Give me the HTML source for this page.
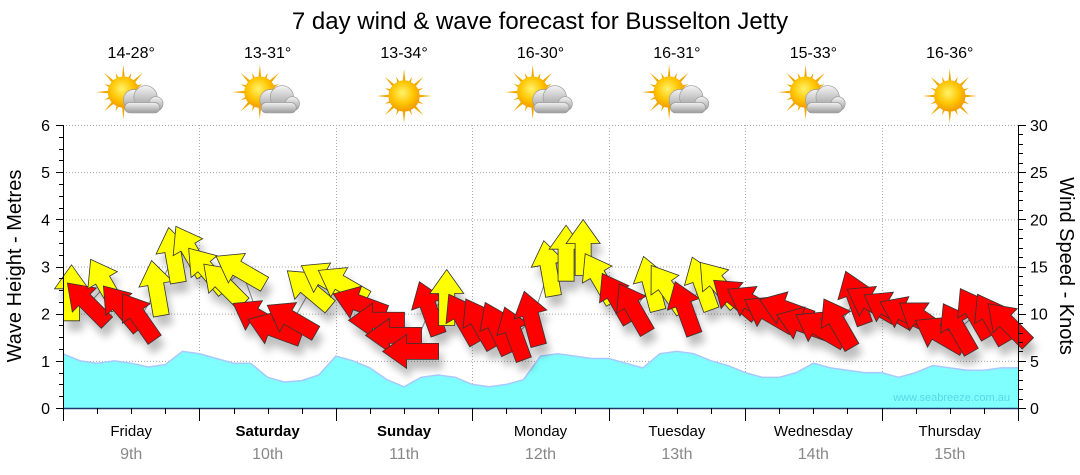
<!DOCTYPE html>
<html><head><meta charset="utf-8"><style>
body{margin:0;background:#fff;width:1080px;height:475px;overflow:hidden;font-family:"Liberation Sans","DejaVu Sans",sans-serif}
svg{display:block}
</style></head><body>
<svg id="c" width="1080" height="475">
<defs>
<radialGradient id="sun" cx="45%" cy="40%" r="60%"><stop offset="0" stop-color="#fff36a"/><stop offset="0.6" stop-color="#ffc400"/><stop offset="1" stop-color="#f29a00"/></radialGradient>
<linearGradient id="cloud" x1="0" y1="0" x2="0" y2="1"><stop offset="0" stop-color="#f4f4f4"/><stop offset="1" stop-color="#9a9a9a"/></linearGradient>
<filter id="sh" x="-30%" y="-30%" width="160%" height="160%"><feGaussianBlur stdDeviation="4"/></filter>
</defs>
</svg>
<script>
const days=['Friday','Saturday','Sunday','Monday','Tuesday','Wednesday','Thursday'];
const dates=['9th','10th','11th','12th','13th','14th','15th'];
const temps=['14-28°','13-31°','13-34°','16-30°','16-31°','15-33°','16-36°'];
const cloudy=[1,1,0,1,1,1,0];
const leftTicks=[0,1,2,3,4,5,6];
const rightTicks=[0,5,10,15,20,25,30];
const waveHeights=[1.15,1.0,0.95,1.0,0.95,0.87,0.92,1.2, 1.15,1.05,0.95,0.95,0.65,0.55,0.58,0.7, 1.1,1.0,0.85,0.6,0.45,0.65,0.7,0.65, 0.5,0.45,0.5,0.6,1.1,1.15,1.1,1.05, 1.05,0.95,0.85,1.15,1.2,1.15,1.0,0.9, 0.75,0.65,0.65,0.75,0.95,0.85,0.8,0.75, 0.75,0.65,0.75,0.9,0.85,0.8,0.8,0.85];
const windSpeeds=[12,11,13,10.5,9.5,12.5,16,16.5, 14.5,13,14.5,9.5,8.3,9.3,12.5,13.5, 13,11,9.3,7.7,6,10.4,11.5,9.3, 8.8,8.3,7.7,9.3,14.6,16.2,16.8,13.6, 11.5,10.4,13,12.5,10.4,13,13,11.5, 11,9.9,10.4,8.8,8.3,8.8,11.5,11, 10.4,9.9,9.3,7.7,8.3,9.9,9.3,8.8];
const windDirs=[0,-45,-30,-40,-35,-10,-10,-30, -40,-45,-60,-60,-70,-60,-50,-60, -60,-70,-90,-90,-90,-20,0,-30, -30,-25,-20,-15,-10,0,0,-30, -30,-30,-15,-35,-20,-20,-40,-50, -60,-60,-70,-70,-60,-30,-20,-60, -60,-65,-55,-60,-30,-30,-30,-45];
const windSeaBreeze=[1,0,1,0,0,1,1,1, 1,1,1,0,0,0,1,1, 1,0,0,0,0,0,1,0, 0,0,0,0,1,1,1,1, 0,0,1,1,0,1,1,0, 0,0,0,0,0,0,0,0, 0,0,0,0,0,0,0,0];

const NS='http://www.w3.org/2000/svg';
const svg=document.getElementById('c');
const X0=63,X1=1018,Y0=408,Y1=125;
const xh=h=>X0+(X1-X0)*h/168;
const ym=m=>Y0-(Y0-Y1)*m/6;
const yk=k=>Y0-(Y0-Y1)*k/30;
function el(t,a,p){const e=document.createElementNS(NS,t);for(const k in a)e.setAttribute(k,a[k]);(p||svg).appendChild(e);return e;}
function txt(s,a,p){const e=el('text',a,p);e.textContent=s;return e;}

let t=txt('7 day wind & wave forecast for Busselton Jetty',{x:540,y:29,'text-anchor':'middle','font-size':24,fill:'#000'});



const grid=el('g',{stroke:'#aaa','stroke-dasharray':'1,2','stroke-width':1});


leftTicks.forEach(v=>{if(v>0)el('line',{x1:X0,x2:X1,y1:ym(v)+.5,y2:ym(v)+.5},grid);});
for(let d=1;d<7;d++)el('line',{x1:Math.round(xh(d*24))+.5,x2:Math.round(xh(d*24))+.5,y1:Y1,y2:Y0},grid);

let pts=waveHeights.map((v,i)=>xh(i*3)+','+ym(v));
let wa=el('polygon',{points:X0+','+Y0+' '+pts.join(' ')+' '+xh(168)+','+ym(waveHeights[waveHeights.length-1])+' '+X1+','+Y0,fill:'#80ffff'});


let wl=el('polyline',{points:pts.join(' ')+' '+xh(168)+','+ym(waveHeights[waveHeights.length-1]),fill:'none',stroke:'#a8c8ff','stroke-width':1.5});


let wm=txt('www.seabreeze.com.au',{x:1010,y:401,'text-anchor':'end','font-size':11,fill:'#5cd6e6'});



let wp=windSpeeds.map((v,i)=>xh(i*3+1.5)+','+yk(v));
let wln=el('polyline',{points:wp.join(' '),fill:'none',stroke:'#888','stroke-width':1});



const arrowPath='M0,-30 L17,-6 L8,-6 L8,26 L-8,26 L-8,-6 L-17,-6 Z';
const shG=el('g',{opacity:0.25,filter:'url(#sh)'});
windSpeeds.forEach((v,i)=>{el('path',{d:arrowPath,fill:'#000',transform:`translate(${xh(i*3+1.5)+4},${yk(v)+10}) rotate(${windDirs[i]})`},shG);});
windSpeeds.forEach((v,i)=>{
  const a=el('path',{d:arrowPath,fill:windSeaBreeze[i]?'#ffff00':'#ff0000',stroke:'#333','stroke-width':0.8,transform:`translate(${xh(i*3+1.5)},${yk(v)}) rotate(${windDirs[i]})`});
  
  
});

const ax=el('g',{stroke:'#000','stroke-width':1});


el('line',{x1:X0+.5,x2:X0+.5,y1:Y1,y2:Y0},ax);
el('line',{x1:X1+.5,x2:X1+.5,y1:Y1,y2:Y0},ax);
el('line',{x1:X0,x2:X1+1,y1:Y0+.5,y2:Y0+.5,stroke:'#1a3a6a','stroke-width':1.5},ax);
for(let m=0;m<=24;m++){const y=Math.round(ym(m/4))+.5;el('line',{x1:m%4?X0-4:X0-7,x2:X0,y1:y,y2:y},ax);}
for(let k=0;k<=30;k++){const y=Math.round(yk(k))+.5;el('line',{x1:X1,x2:k%5?X1+5:X1+8,y1:y,y2:y},ax);}
for(let h=0;h<=168;h+=6){const x=Math.round(xh(h))+.5;el('line',{x1:x,x2:x,y1:Y0,y2:h%24?Y0+6:Y0+13},ax);}
leftTicks.forEach(v=>{const e=txt(v,{x:50,y:ym(v)+6,'text-anchor':'end','font-size':16,fill:'#000'});});
rightTicks.forEach(v=>{const e=txt(v,{x:1030,y:yk(v)+6,'font-size':16,fill:'#000'});});
let yl=txt('Wave Height - Metres',{transform:'translate(21,266) rotate(-90)','text-anchor':'middle','font-size':20,fill:'#000'});


let yr=txt('Wind Speed - Knots',{transform:'translate(1060,266) rotate(90)','text-anchor':'middle','font-size':20,fill:'#000'});



days.forEach((d,i)=>{
  const cx=xh(i*24+12);
  const a=txt(d,{x:cx,y:436,'text-anchor':'middle','font-size':15,'font-weight':(i==1||i==2)?'bold':'normal',fill:'#000'});
  
  
  const b=txt(dates[i],{x:cx,y:459,'text-anchor':'middle','font-size':16,fill:'#888'});
  
  
  const c=txt(temps[i],{x:cx,y:58,'text-anchor':'middle','font-size':16,fill:'#000'});
  
  
  const g=el('g',{transform:`translate(${cx},${96}) scale(1.3)`});
  
  
  const sx=cloudy[i]?-6:0, sy=cloudy[i]?-3:0;
  for(let r=0;r<16;r++){const an=r*Math.PI/8;const L=r%2?16:21;el('polygon',{points:`${sx+Math.cos(an)*L},${sy+Math.sin(an)*L} ${sx+Math.cos(an+0.12)*10},${sy+Math.sin(an+0.12)*10} ${sx+Math.cos(an-0.12)*10},${sy+Math.sin(an-0.12)*10}`,fill:'#f0a800'},g);}
  el('circle',{cx:sx,cy:sy,r:12,fill:'url(#sun)'},g);
  if(cloudy[i]){
    const cg=el('g',{fill:'url(#cloud)',stroke:'#999','stroke-width':0.5},g);
    el('circle',{cx:2,cy:3,r:8},cg);el('circle',{cx:11,cy:1,r:9},cg);el('circle',{cx:19,cy:6,r:5.5},cg);
    el('rect',{x:-5,y:5,width:27,height:8,rx:4},cg);
  }
});
</script>
</body></html>
